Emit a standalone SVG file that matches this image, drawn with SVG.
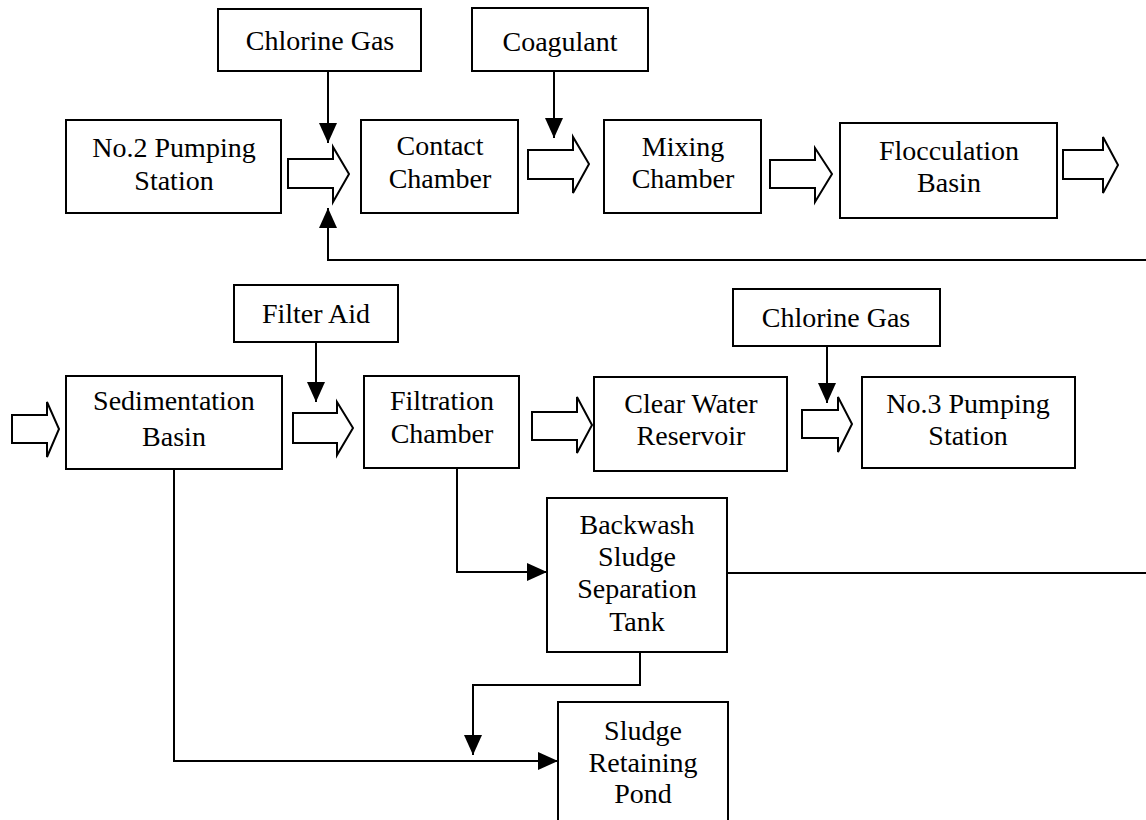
<svg xmlns="http://www.w3.org/2000/svg" width="1146" height="820" viewBox="0 0 1146 820">
<defs>
<style>
.box{fill:#fff;stroke:#000;stroke-width:2}
.t{font-family:"Liberation Serif","Times New Roman",serif;font-size:28px;fill:#000;text-anchor:middle}
.c{fill:none;stroke:#000;stroke-width:2}
.blk{fill:#fff;stroke:#000;stroke-width:2;stroke-linejoin:miter}
</style>
<marker id="ah" viewBox="0 0 20 18" refX="20" refY="9" markerWidth="20" markerHeight="18" markerUnits="userSpaceOnUse" orient="auto">
<path d="M0,0 L20,9 L0,18 Z" fill="#000"/>
</marker>
</defs>
<rect width="1146" height="820" fill="#fff"/>

<g id="connectors">
<path class="c" d="M328,71 V143" marker-end="url(#ah)"/>
<path class="c" d="M1146,260 H328 V208" marker-end="url(#ah)"/>
<path class="c" d="M554,71 V138" marker-end="url(#ah)"/>
<path class="c" d="M316,342 V402" marker-end="url(#ah)"/>
<path class="c" d="M827,346 V403" marker-end="url(#ah)"/>
<path class="c" d="M174,469 V761 H558" marker-end="url(#ah)"/>
<path class="c" d="M457,468 V572 H547" marker-end="url(#ah)"/>
<path class="c" d="M727,573 H1146"/>
<path class="c" d="M640,652 V685 H473 V755" marker-end="url(#ah)"/>
</g>

<g id="flow-arrows">
<polygon class="blk" points="288,159 333,159 333,147 349,174 333,202 333,188 288,188"/>
<polygon class="blk" points="528,150 573,150 573,137 589,164 573,193 573,179 528,179"/>
<polygon class="blk" points="770,160 815,160 815,148 832,174 815,202 815,188 770,188"/>
<polygon class="blk" points="1063,150 1103,150 1103,137 1118,165 1103,193 1103,179 1063,179"/>
<polygon class="blk" points="12,415 47,415 47,402 59,429 47,457 47,443 12,443"/>
<polygon class="blk" points="293,413 337,413 337,402 353,428 337,455 337,443 293,443"/>
<polygon class="blk" points="532,412 577,412 577,397 592,425 577,453 577,440 532,440"/>
<polygon class="blk" points="802,410 838,410 838,397 852,424 838,452 838,438 802,438"/>
</g>

<g id="chlorine-gas-1">
<rect class="box" x="218" y="9" width="203" height="62"/>
<text class="t" x="320" y="50">Chlorine Gas</text>
</g>
<g id="coagulant">
<rect class="box" x="472" y="8" width="176" height="63"/>
<text class="t" x="560" y="51">Coagulant</text>
</g>
<g id="no2-pumping-station">
<rect class="box" x="66" y="120" width="215" height="93"/>
<text class="t" x="174" y="157">No.2 Pumping</text>
<text class="t" x="174" y="190">Station</text>
</g>
<g id="contact-chamber">
<rect class="box" x="361" y="120" width="157" height="93"/>
<text class="t" x="440" y="155">Contact</text>
<text class="t" x="440" y="188">Chamber</text>
</g>
<g id="mixing-chamber">
<rect class="box" x="604" y="120" width="157" height="93"/>
<text class="t" x="683" y="156">Mixing</text>
<text class="t" x="683" y="188">Chamber</text>
</g>
<g id="flocculation-basin">
<rect class="box" x="840" y="123" width="217" height="95"/>
<text class="t" x="949" y="160">Flocculation</text>
<text class="t" x="949" y="192">Basin</text>
</g>
<g id="filter-aid">
<rect class="box" x="234" y="285" width="164" height="57"/>
<text class="t" x="316" y="323">Filter Aid</text>
</g>
<g id="chlorine-gas-2">
<rect class="box" x="733" y="289" width="207" height="57"/>
<text class="t" x="836" y="327">Chlorine Gas</text>
</g>
<g id="sedimentation-basin">
<rect class="box" x="66" y="376" width="216" height="93"/>
<text class="t" x="174" y="410">Sedimentation</text>
<text class="t" x="174" y="446">Basin</text>
</g>
<g id="filtration-chamber">
<rect class="box" x="364" y="376" width="155" height="92"/>
<text class="t" x="442" y="410">Filtration</text>
<text class="t" x="442" y="443">Chamber</text>
</g>
<g id="clear-water-reservoir">
<rect class="box" x="594" y="377" width="193" height="94"/>
<text class="t" x="691" y="413">Clear Water</text>
<text class="t" x="691" y="445">Reservoir</text>
</g>
<g id="no3-pumping-station">
<rect class="box" x="862" y="377" width="213" height="91"/>
<text class="t" x="968" y="413">No.3 Pumping</text>
<text class="t" x="968" y="445">Station</text>
</g>
<g id="backwash-sludge-separation-tank">
<rect class="box" x="547" y="498" width="180" height="154"/>
<text class="t" x="637" y="534">Backwash</text>
<text class="t" x="637" y="566">Sludge</text>
<text class="t" x="637" y="598">Separation</text>
<text class="t" x="637" y="631">Tank</text>
</g>
<g id="sludge-retaining-pond">
<rect class="box" x="558" y="702" width="170" height="130"/>
<text class="t" x="643" y="740">Sludge</text>
<text class="t" x="643" y="772">Retaining</text>
<text class="t" x="643" y="803">Pond</text>
</g>
</svg>
